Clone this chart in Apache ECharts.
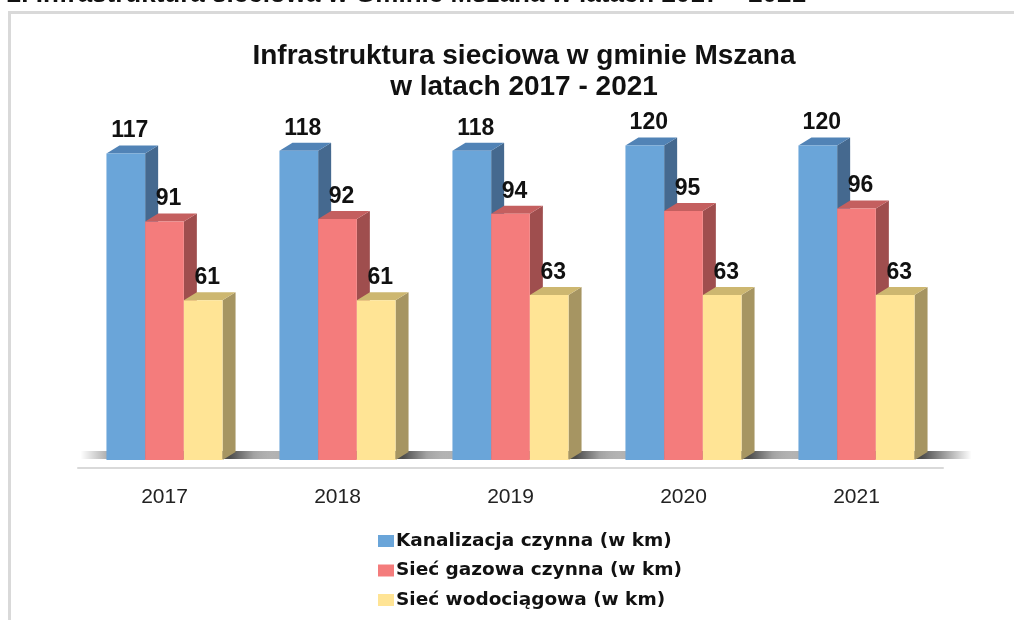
<!DOCTYPE html>
<html>
<head>
<meta charset="utf-8">
<script src="https://cdn.jsdelivr.net/npm/echarts@6/dist/echarts.min.js"></script>
<style>
  html, body { margin: 0; padding: 0; background: #fff; }
  #chart { width: 1014px; height: 620px; }
</style>
</head>
<body>
<div id="chart"></div>
<script>
const years = ['2017', '2018', '2019', '2020', '2021']
const kanalizacja = [117, 118, 118, 120, 120]
const gaz = [91, 92, 94, 95, 96]
const woda = [61, 61, 63, 63, 63]
const seriesNames = ['Kanalizacja czynna (w km)', 'Sieć gazowa czynna (w km)', 'Sieć wodociągowa (w km)']

// front / top / side shades
const palette = [
  { front: '#6aa5d9', top: '#5183b6', side: '#45698f' },
  { front: '#f47c7c', top: '#c45f5f', side: '#9f4e4e' },
  { front: '#ffe495', top: '#cdb770', side: '#a69562' }
]

const BAR_W = 38.7
const DX = 13
const DY = 8

function makeRender(idx) {
  return function (params, api) {
    const cat = api.value(0)
    const val = api.value(1)
    const base = api.coord([cat, 0])
    const topPt = api.coord([cat, val])
    const x0 = base[0] - BAR_W * 1.5 + idx * BAR_W
    const x1 = x0 + BAR_W
    const b = base[1]
    const t = topPt[1]
    const c = palette[idx]
    const children = []

    if (idx === 0) {
      // soft floor shadow behind the group
      children.push({
        type: 'rect',
        shape: { x: x0 - 26, y: b - 9, width: BAR_W * 3 + DX + 70, height: 8 },
        style: {
          fill: new echarts.graphic.LinearGradient(0, 0, 1, 0, [
            { offset: 0, color: 'rgba(0,0,0,0)' },
            { offset: 0.15, color: 'rgba(0,0,0,0.35)' },
            { offset: 0.75, color: 'rgba(0,0,0,0.7)' },
            { offset: 1, color: 'rgba(0,0,0,0)' }
          ])
        }
      })
    }

    children.push({
      type: 'polygon',
      shape: { points: [[x1, b], [x1 + DX, b - DY], [x1 + DX, t - DY], [x1, t]] },
      style: { fill: c.side }
    })
    children.push({
      type: 'polygon',
      shape: { points: [[x0, t], [x0 + DX, t - DY], [x1 + DX, t - DY], [x1, t]] },
      style: { fill: c.top }
    })
    children.push({
      type: 'rect',
      shape: { x: x0, y: t, width: BAR_W, height: b - t },
      style: { fill: c.front }
    })
    children.push({
      type: 'text',
      x: (x0 + x1) / 2 + 4,
      y: t - DY - 3,
      style: {
        text: String(val),
        fill: '#111',
        font: 'bold 23px Arial, "Liberation Sans", sans-serif',
        align: 'center',
        verticalAlign: 'bottom'
      }
    })
    return { type: 'group', children: children }
  }
}

const chart = echarts.init(document.getElementById('chart'))

const seriesData = [kanalizacja, gaz, woda]

const option = {
  backgroundColor: '#fff',
  animation: false,
  graphic: [
    {
      type: 'rect',
      z: -10,
      shape: { x: 9.5, y: 12.5, width: 1020, height: 640 },
      style: { fill: '#fff', stroke: '#d9d9d9', lineWidth: 3 }
    },
    {
      // caption of the document, cut off by the top edge
      type: 'text',
      x: 806,
      y: -18,
      style: {
        text: '2. Infrastruktura sieciowa w Gminie Mszana w latach 2017 – 2021',
        font: 'bold 26px Arial, "Liberation Sans", sans-serif',
        fill: '#111',
        align: 'right',
        verticalAlign: 'top'
      }
    }
  ],
  title: {
    text: 'Infrastruktura sieciowa w gminie Mszana\nw latach 2017 - 2021',
    left: 519,
    top: 36,
    textAlign: 'center',
    textStyle: {
      fontFamily: 'Arial, "Liberation Sans", sans-serif',
      fontWeight: 'bold',
      fontSize: 28,
      lineHeight: 31,
      color: '#111'
    }
  },
  legend: {
    orient: 'vertical',
    left: 373,
    top: 526,
    itemWidth: 16,
    itemHeight: 12,
    itemGap: 9.5,
    icon: 'rect',
    textStyle: {
      fontFamily: '"DejaVu Sans", Arial, sans-serif',
      fontWeight: 'bold',
      fontSize: 18.5,
      lineHeight: 20,
      color: '#111',
      padding: [0, 0, 0, -3]
    },
    data: seriesNames
  },
  grid: {
    left: 78,
    right: 71,
    top: 67,
    bottom: 160
  },
  xAxis: {
    type: 'category',
    data: years,
    offset: 8,
    axisLine: { onZero: false, lineStyle: { color: '#d9d9d9', width: 2 } },
    axisTick: { show: false },
    axisLabel: {
      margin: 19,
      fontFamily: 'Arial, "Liberation Sans", sans-serif',
      fontSize: 21,
      color: '#222'
    }
  },
  yAxis: {
    type: 'value',
    min: 0,
    max: 150,
    show: false,
    splitLine: { show: false }
  },
  series: seriesNames.map(function (name, i) {
    return {
      type: 'custom',
      name: name,
      renderItem: makeRender(i),
      itemStyle: { color: palette[i].front },
      encode: { x: 0, y: 1 },
      data: seriesData[i].map(function (v, j) { return [j, v] })
    }
  })
}

chart.setOption(option)
</script>
</body>
</html>
